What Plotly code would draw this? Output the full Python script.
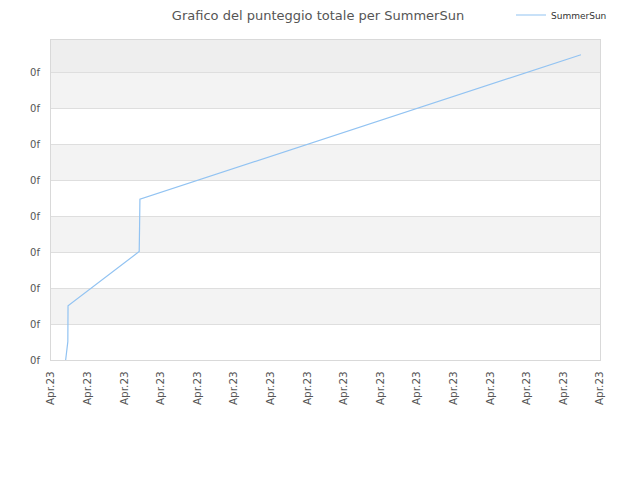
import plotly.graph_objects as go

# cumulative total score of SummerSun over time
timestamps = [
    "2023-04-01 09:36", "2023-04-01 10:19", "2023-04-01 11:02", "2023-04-01 11:10",
    "2023-04-03 09:50", "2023-04-03 10:05", "2023-04-03 10:19", "2023-04-15 11:31",
]
scores = [0, 36, 51, 151, 302, 371, 448, 850]

y_ticks = [0, 100, 200, 300, 400, 500, 600, 700, 800]
y_labels = ["0f"] * len(y_ticks)
y_top = 891

fig = go.Figure()

fig.add_trace(go.Scatter(
    x=timestamps, y=scores,
    mode='lines',
    line=dict(color='#92c3f2', width=1.2),
    name='SummerSun'
))

# alternating background bands between ticks, darker band at the top
shapes = []
for i in range(len(y_ticks) - 1):
    if i % 2 == 1:
        shapes.append(dict(type='rect', xref='paper', yref='y', x0=0, x1=1,
                           y0=y_ticks[i], y1=y_ticks[i + 1],
                           fillcolor='#f3f3f3', line_width=0, layer='below'))
shapes.append(dict(type='rect', xref='paper', yref='y', x0=0, x1=1,
                   y0=y_ticks[-1], y1=y_top,
                   fillcolor='#eeeeee', line_width=0, layer='below'))

# the page body adds an 8px margin, so the figure is sized 632x472
W, H = 632, 472

fig.update_layout(
    width=W, height=H,
    margin=dict(l=43, r=40, t=32, b=120, autoexpand=False),
    paper_bgcolor='white',
    plot_bgcolor='white',
    font=dict(family='DejaVu Sans', size=10, color='#555555'),
    title=dict(text='Grafico del punteggio totale per SummerSun',
               x=310 / W, xanchor='center', y=1 - 7 / H, yanchor='middle',
               yref='container', pad=dict(t=0, b=0),
               font=dict(size=13, color='#555555')),
    showlegend=True,
    legend=dict(orientation='h', x=604 / W, xanchor='right', xref='container',
                y=1 - 7 / H, yanchor='middle', yref='container',
                font=dict(size=9, color='#333333'), bgcolor='rgba(0,0,0,0)'),
    shapes=shapes,
    xaxis=dict(
        range=["2023-04-01", "2023-04-16"],
        tickmode='linear', tick0="2023-04-01", dtick=86400000,
        tickformat='%b.%y', tickangle=-90,
        showgrid=False, zeroline=False,
        showline=True, linecolor='#d9d9d9', mirror=True,
        ticks='', ticklabelstandoff=6,
        tickfont=dict(size=10.5, color='#555555'),
    ),
    yaxis=dict(
        range=[0, y_top],
        tickvals=y_ticks, ticktext=y_labels,
        showgrid=True, gridcolor='#dedede', gridwidth=1,
        zeroline=False,
        showline=True, linecolor='#d9d9d9', mirror=True,
        ticks='', ticklabelstandoff=8,
        tickfont=dict(size=10, color='#555555'),
    ),
)

fig.write_html("out.html")
